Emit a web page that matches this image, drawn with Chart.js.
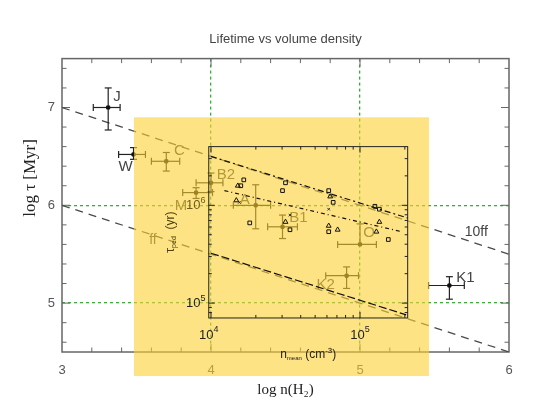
<!DOCTYPE html>
<html>
<head>
<meta charset="utf-8">
<title>Lifetime vs volume density</title>
<script src="https://cdn.jsdelivr.net/npm/chart.js@4.4.1/dist/chart.umd.min.js"></script>
<style>
  html, body { margin: 0; padding: 0; background: #fff; }
  canvas { display: block; }
</style>
</head>
<body>
<canvas id="chart" width="556" height="415"></canvas>
<script>
// outer panel: cores, log n(H2) vs log lifetime [Myr]
const cores  = ['J', 'W', 'C', 'B2', 'M', 'A', 'B1', 'O', 'K2', 'K1'];
const logN   = [3.31, 3.48, 3.70, 4.00, 3.90, 4.30, 4.48, 5.00, 4.91, 5.60];
const logTau = [7.00, 6.52, 6.45, 6.23, 6.13, 6.00, 5.78, 5.60, 5.28, 5.18];
const nLo    = [3.21, 3.38, 3.60, 3.90, 3.81, 4.15, 4.38, 4.85, 4.77, 5.46];
const nHi    = [3.39, 3.56, 3.79, 4.08, 4.01, 4.40, 4.58, 5.11, 4.99, 5.70];
const tauLo  = [6.77, 6.47, 6.35, 6.14, 6.07, 5.76, 5.66, 5.60, 5.15, 5.04];
const tauHi  = [7.20, 6.59, 6.54, 6.33, 6.18, 6.21, 5.90, 5.81, 5.37, 5.27];

// free-fall lines (slope -1/2)
const ffLine   = [[3, 6.0], [6, 4.5]];
const ff10Line = [[3, 7.0], [6, 5.5]];

// inset: tau_ped vs n_mean (log units, same frame)
const insetUpper  = [[4.0, 6.50], [5.32, 5.87]];
const insetMiddle = [[4.09, 6.15], [5.28, 5.73]];
const insetLower  = [[4.0, 5.51], [5.31, 4.88]];
const sqN   = [4.22, 4.20, 4.50, 4.48, 4.26, 4.53, 4.79, 4.82, 5.10, 5.13, 4.79, 5.19];
const sqTau = [6.26, 6.20, 6.23, 6.15, 5.82, 5.75, 6.15, 6.03, 5.99, 5.96, 5.73, 5.65];
const triN   = [4.18, 4.17, 4.50, 4.80, 5.13, 4.79, 4.85, 5.11];
const triTau = [6.20, 6.05, 5.83, 6.09, 5.83, 5.79, 5.75, 5.73];
const crN   = [4.19, 4.53, 4.79];
const crTau = [6.03, 5.90, 5.96];

// axis ticks (minor every 0.2, labels on whole numbers)
const xMin = 3, xMax = 6, yMin = 4.5, yMax = 7.5;
const xTicks = [3, 3.2, 3.4, 3.6, 3.8, 4, 4.2, 4.4, 4.6, 4.8, 5, 5.2, 5.4, 5.6, 5.8, 6];
const yTicks = [4.6, 4.8, 5, 5.2, 5.4, 5.6, 5.8, 6, 6.2, 6.4, 6.6, 6.8, 7, 7.2, 7.4];
const gridX = [4, 5];
const gridY = [5, 6];

// translucent sheet and inset frame (data units)
const sheetX = [3.483, 5.463];
const sheetY = [4.254, 6.9];
const insetX = [3.985, 5.32];
const insetY = [4.848, 6.6];

const SANS = '"Liberation Sans", Arial, sans-serif';
const SERIF = '"Liberation Serif", "Times New Roman", serif';
const GREEN = '#33b233';

const labelOffsets = {
  J: [5, -11, 'left'], W: [-8, 12, 'center'], C: [13, -10, 'center'],
  B2: [15, -8, 'center'], M: [-15, 13, 'center'], A: [-11, -5, 'center'],
  B1: [16, -9, 'center'], O: [9, -12, 'center'], K2: [-21, 9, 'center'],
  K1: [16, -8, 'center']
};

const pts = (xs, ys) => xs.map((v, i) => ({ x: v, y: ys[i] }));
const seg = (a) => a.map(p => ({ x: p[0], y: p[1] }));
const isInt = (v) => Math.abs(v - Math.round(v)) < 1e-6;
const onGrid = (list) => (c) => (c.tick && list.some(g => Math.abs(c.tick.value - g) < 1e-6)) ? GREEN : 'rgba(0,0,0,0)';

function line(ctx, x1, y1, x2, y2) {
  ctx.beginPath();
  ctx.moveTo(x1, y1);
  ctx.lineTo(x2, y2);
  ctx.stroke();
}

// draws a run of text pieces [text, size, dy], centered on (cx, cy)
function drawParts(ctx, parts, cx, cy, family) {
  let w = 0;
  parts.forEach(p => { ctx.font = `${p[1]}px ${family}`; w += ctx.measureText(p[0]).width; });
  let left = cx - w / 2;
  ctx.textAlign = 'left';
  ctx.textBaseline = 'middle';
  parts.forEach(p => {
    ctx.font = `${p[1]}px ${family}`;
    ctx.fillText(p[0], left, cy + p[2]);
    left += ctx.measureText(p[0]).width;
  });
  return w;
}

function drawInset(chart) {
  const { ctx, scales: { x, y } } = chart;
  ctx.save();
  const sx0 = x.getPixelForValue(sheetX[0]), sx1 = x.getPixelForValue(sheetX[1]);
  const sy0 = y.getPixelForValue(sheetY[1]), sy1 = y.getPixelForValue(sheetY[0]);
  ctx.fillStyle = 'rgba(251, 208, 48, 0.6)';
  ctx.fillRect(sx0, sy0, sx1 - sx0, sy1 - sy0);

  const ix0 = x.getPixelForValue(insetX[0]), ix1 = x.getPixelForValue(insetX[1]);
  const iy0 = y.getPixelForValue(insetY[1]), iy1 = y.getPixelForValue(insetY[0]);
  ctx.strokeStyle = '#222';
  ctx.lineWidth = 1;
  ctx.strokeRect(ix0, iy0, ix1 - ix0, iy1 - iy0);

  // log ticks on the inset
  for (let d = 4; d <= 6; d++) {
    for (let k = 1; k <= 9; k++) {
      const v = d + Math.log10(k);
      const len = k === 1 ? 6 : 3;
      if (v > insetX[0] + 0.01 && v < insetX[1] - 0.01) {
        const px = x.getPixelForValue(v);
        line(ctx, px, iy1, px, iy1 - len);
        line(ctx, px, iy0, px, iy0 + len);
      }
      if (v > insetY[0] + 0.01 && v < insetY[1] - 0.01) {
        const py = y.getPixelForValue(v);
        line(ctx, ix0, py, ix0 + len, py);
        line(ctx, ix1, py, ix1 - len, py);
      }
    }
  }

  ctx.fillStyle = '#222';
  const lbY = iy1 + 17;
  drawParts(ctx, [['10', 13, 0], ['4', 9, -5]], ix0, lbY, SANS);
  drawParts(ctx, [['10', 13, 0], ['5', 9, -5]], x.getPixelForValue(5), lbY, SANS);
  drawParts(ctx, [['10', 13, 0], ['5', 9, -5]], ix0 - 13, y.getPixelForValue(5), SANS);
  ctx.fillStyle = '#6f5e18';
  drawParts(ctx, [['10', 13, 0], ['6', 9, -5]], ix0 - 13, y.getPixelForValue(6), SANS);

  ctx.fillStyle = '#222';
  drawParts(ctx, [['n', 12, 0], ['mean', 6, 3], [' (cm', 12, 0], ['-3', 8, -4], [')', 12, 0]],
    (ix0 + ix1) / 2, iy1 + 37, SANS);
  ctx.save();
  ctx.translate(ix0 - 38, (iy0 + iy1) / 2);
  ctx.rotate(-Math.PI / 2);
  ctx.fillStyle = '#4a4010';
  drawParts(ctx, [['\u03C4', 13, 0], ['ped', 7, 3], ['  (yr)', 12, 0]], 0, 0, SANS);
  ctx.restore();
  ctx.restore();
}

function drawErrorBars(chart) {
  const { ctx, scales: { x, y } } = chart;
  ctx.save();
  ctx.strokeStyle = '#222';
  ctx.lineWidth = 1.2;
  const cap = 3.5;
  cores.forEach((name, i) => {
    const px = x.getPixelForValue(logN[i]), py = y.getPixelForValue(logTau[i]);
    const xl = x.getPixelForValue(nLo[i]), xh = x.getPixelForValue(nHi[i]);
    const yl = y.getPixelForValue(tauLo[i]), yh = y.getPixelForValue(tauHi[i]);
    line(ctx, xl, py, xh, py);
    line(ctx, xl, py - cap, xl, py + cap);
    line(ctx, xh, py - cap, xh, py + cap);
    line(ctx, px, yh, px, yl);
    line(ctx, px - cap, yh, px + cap, yh);
    if (yl - py > 1) line(ctx, px - cap, yl, px + cap, yl);
  });
  ctx.fillStyle = '#444';
  ctx.textBaseline = 'middle';
  cores.forEach((name, i) => {
    const o = labelOffsets[name];
    ctx.font = `15px ${SANS}`;
    ctx.textAlign = o[2];
    ctx.fillText(name, x.getPixelForValue(logN[i]) + o[0], y.getPixelForValue(logTau[i]) + o[1]);
  });
  ctx.font = `14px ${SANS}`;
  ctx.textAlign = 'center';
  ctx.fillText('ff', x.getPixelForValue(3.61), y.getPixelForValue(5.695) + 5);
  ctx.fillText('10ff', x.getPixelForValue(5.78), y.getPixelForValue(5.61) - 11);
  ctx.restore();
}

const panels = {
  id: 'panels',
  beforeDraw(chart) { chart.$insetDone = false; },
  beforeDatasetsDraw(chart) {
    const { ctx, chartArea: a, scales: { x, y } } = chart;
    ctx.save();
    ctx.strokeStyle = '#666';
    ctx.lineWidth = 1;
    x.ticks.forEach(t => {
      const px = x.getPixelForValue(t.value);
      if (px <= a.left + 1 || px >= a.right - 1) return;
      const len = isInt(t.value) ? 8 : 4.5;
      line(ctx, px, a.bottom, px, a.bottom - len);
      line(ctx, px, a.top, px, a.top + len);
    });
    y.ticks.forEach(t => {
      const py = y.getPixelForValue(t.value);
      if (py <= a.top + 1 || py >= a.bottom - 1) return;
      const len = isInt(t.value) ? 8 : 4.5;
      line(ctx, a.left, py, a.left + len, py);
      line(ctx, a.right, py, a.right - len, py);
    });
    ctx.lineWidth = 1.5;
    ctx.strokeRect(a.left, a.top, a.right - a.left, a.bottom - a.top);
    ctx.restore();
  },
  beforeDatasetDraw(chart, args) {
    const ds = chart.data.datasets[args.index];
    if (ds.label === 'cores') drawErrorBars(chart);
    if (ds.inset && !chart.$insetDone) {
      chart.$insetDone = true;
      drawInset(chart);
    }
  },
  afterDraw(chart) {
    const { ctx } = chart;
    ctx.save();
    ctx.translate(31, 178);
    ctx.rotate(-Math.PI / 2);
    ctx.fillStyle = '#222';
    ctx.font = `17px ${SERIF}`;
    ctx.textAlign = 'center';
    ctx.textBaseline = 'middle';
    ctx.fillText('log \u03C4 [Myr]', 0, 0);
    ctx.restore();
  }
};

const lineDs = (label, data, dash, order, inset) => ({
  label, data: seg(data), showLine: true, pointRadius: 0, fill: false,
  borderColor: inset ? '#111' : '#4a4a4a', borderWidth: inset ? 1.2 : 1.3,
  borderDash: dash, order, inset
});

new Chart(document.getElementById('chart'), {
  type: 'scatter',
  data: {
    datasets: [
      lineDs('inset upper', insetUpper, [6, 3, 2, 3], 1, true),
      lineDs('inset middle', insetMiddle, [4, 3, 1, 3], 1, true),
      lineDs('inset lower', insetLower, [8, 3], 1, true),
      {
        label: 'squares', data: pts(sqN, sqTau), pointStyle: 'rect', pointRadius: 2.6,
        backgroundColor: 'rgba(0,0,0,0)', borderColor: '#111', borderWidth: 1, order: 1, inset: true
      },
      {
        label: 'triangles', data: pts(triN, triTau), pointStyle: 'triangle', pointRadius: 2.8,
        backgroundColor: 'rgba(0,0,0,0)', borderColor: '#111', borderWidth: 1, order: 1, inset: true
      },
      {
        label: 'crosses', data: pts(crN, crTau), pointStyle: 'crossRot', pointRadius: 1.8,
        borderColor: '#333', borderWidth: 1, order: 1, inset: true
      },
      {
        label: 'cores', data: pts(logN, logTau), pointStyle: 'rect', pointRadius: 2.2,
        backgroundColor: '#111', borderColor: '#111', borderWidth: 1, order: 2
      },
      lineDs('ff', ffLine, [8, 6], 2, false),
      lineDs('10ff', ff10Line, [8, 6], 2, false)
    ]
  },
  options: {
    responsive: false,
    animation: false,
    devicePixelRatio: 1,
    layout: { padding: { left: 0, right: 47, top: 0, bottom: 0 } },
    plugins: {
      legend: { display: false },
      tooltip: { enabled: false },
      title: {
        display: true,
        fullSize: false,
        text: 'Lifetime vs volume density',
        color: '#444',
        font: { family: SANS, size: 13, weight: 'normal' },
        padding: { top: 32, bottom: 11 }
      }
    },
    scales: {
      x: {
        type: 'linear', min: xMin, max: xMax,
        afterFit: (s) => { s.height = 63; },
        afterBuildTicks: (s) => { s.ticks = xTicks.map(v => ({ value: v })); },
        border: { display: false, dash: [3, 3] },
        grid: { drawTicks: false, lineWidth: 1.3, color: onGrid(gridX) },
        ticks: {
          autoSkip: false, maxRotation: 0, padding: 11,
          color: '#555', font: { family: SANS, size: 13 },
          callback: (v) => isInt(v) ? String(Math.round(v)) : ''
        },
        title: {
          display: true, text: 'log n(H\u2082)', color: '#222',
          font: { family: SERIF, size: 15 }, padding: { top: 0, bottom: 16 }
        }
      },
      y: {
        type: 'linear', min: yMin, max: yMax,
        afterFit: (s) => { s.width = 62; },
        afterBuildTicks: (s) => { s.ticks = yTicks.map(v => ({ value: v })); },
        border: { display: false, dash: [3, 3] },
        grid: { drawTicks: false, lineWidth: 1.3, color: onGrid(gridY) },
        ticks: {
          autoSkip: false, padding: 7,
          color: '#555', font: { family: SANS, size: 13 },
          callback: (v) => isInt(v) ? String(Math.round(v)) : ''
        }
      }
    }
  },
  plugins: [panels]
});
</script>
</body>
</html>
